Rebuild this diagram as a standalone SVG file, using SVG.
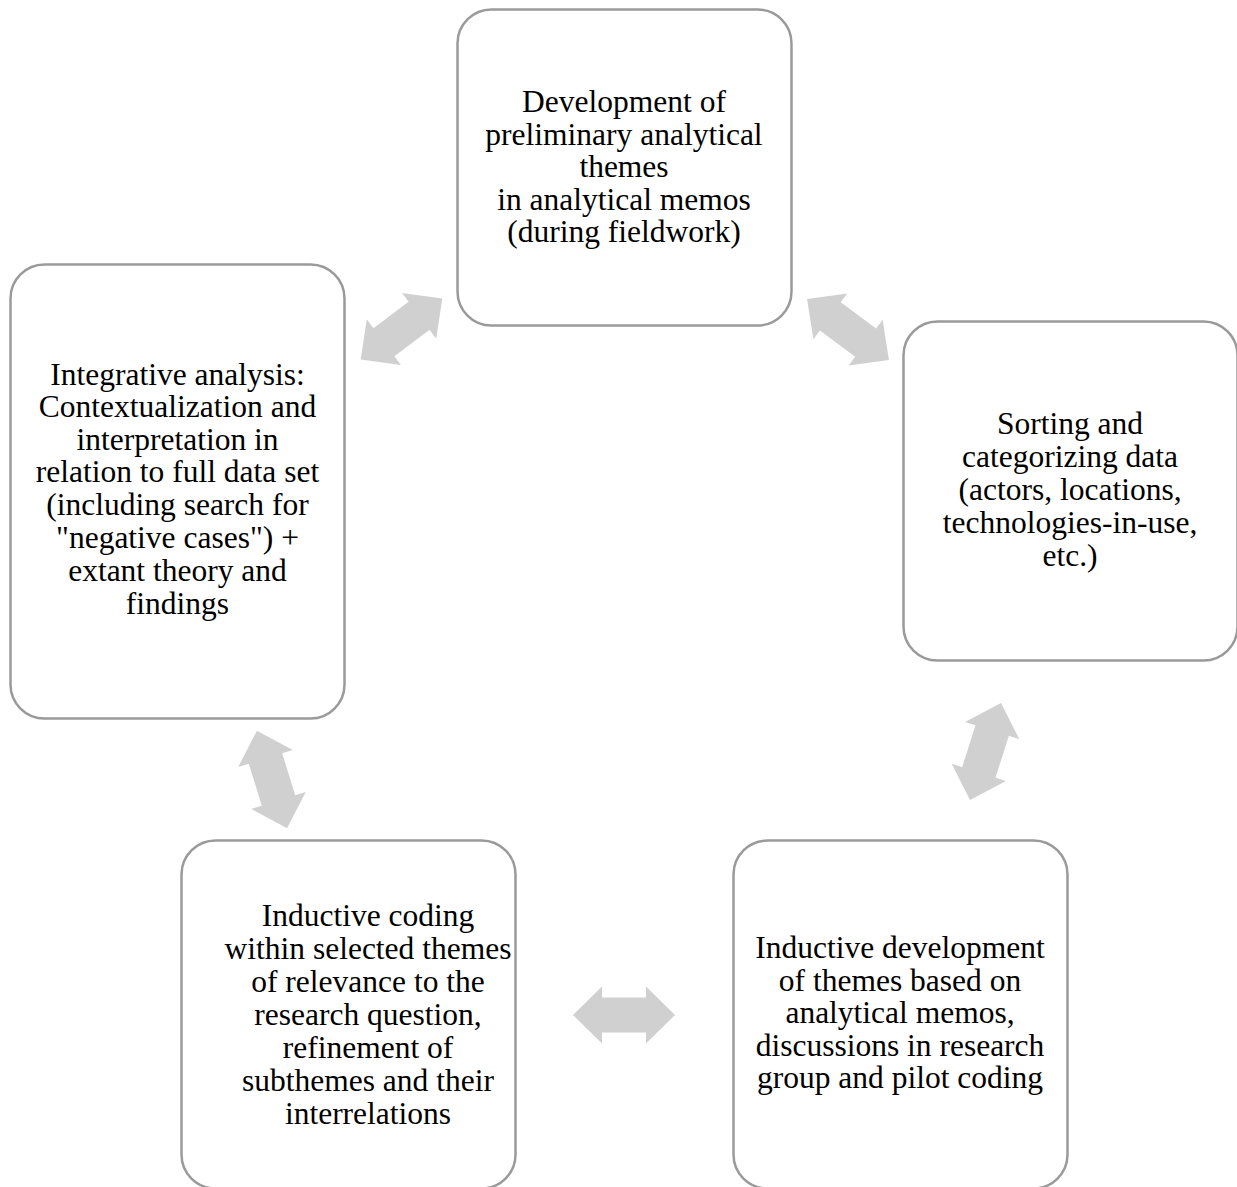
<svg xmlns="http://www.w3.org/2000/svg" width="1237" height="1187" viewBox="0 0 1237 1187">
<style>
.box{fill:#fff;stroke:#9a9a9a;stroke-width:2.5}
.t{font-family:"Liberation Serif","Times New Roman",serif;font-size:31.5px;fill:#000;text-anchor:middle}
.arr{fill:#d0d0d0}
</style>
<defs>
<polygon id="dbl" points="-51,0 -22,-28.5 -22,-17.5 22,-17.5 22,-28.5 51,0 22,28.5 22,17.5 -22,17.5 -22,28.5"/>
</defs>
<rect width="1237" height="1187" fill="#fff"/>
<g id="connectors" class="arr">
<use href="#dbl" transform="translate(401.5,329) rotate(-36.8)"/>
<use href="#dbl" transform="translate(848,329.5) rotate(36.6)"/>
<use href="#dbl" transform="translate(985.5,751.5) rotate(107.7)"/>
<use href="#dbl" transform="translate(624,1015)"/>
<use href="#dbl" transform="translate(272,779.5) rotate(72.8)"/>
</g>
<g id="node-top">
<rect class="box" x="457.5" y="9.5" width="334" height="316" rx="34"/>
<text class="t" x="624" y="112">Development of</text>
<text class="t" x="624" y="144.5">preliminary analytical</text>
<text class="t" x="624" y="177">themes</text>
<text class="t" x="624" y="209.5">in analytical memos</text>
<text class="t" x="624" y="242">(during fieldwork)</text>
</g>
<g id="node-right">
<rect class="box" x="903.5" y="321.5" width="334" height="339" rx="34"/>
<text class="t" x="1070" y="434">Sorting and</text>
<text class="t" x="1070" y="467">categorizing data</text>
<text class="t" x="1070" y="500">(actors, locations,</text>
<text class="t" x="1070" y="533">technologies-in-use,</text>
<text class="t" x="1070" y="566">etc.)</text>
</g>
<g id="node-bottom-right">
<rect class="box" x="733.5" y="840.5" width="334" height="348" rx="34"/>
<text class="t" x="900" y="958">Inductive development</text>
<text class="t" x="900" y="990.5">of themes based on</text>
<text class="t" x="900" y="1023">analytical memos,</text>
<text class="t" x="900" y="1055.5">discussions in research</text>
<text class="t" x="900" y="1088">group and pilot coding</text>
</g>
<g id="node-bottom-left">
<rect class="box" x="181.5" y="840.5" width="334" height="348" rx="34"/>
<text class="t" x="368" y="926">Inductive coding</text>
<text class="t" x="368" y="959">within selected themes</text>
<text class="t" x="368" y="992">of relevance to the</text>
<text class="t" x="368" y="1025">research question,</text>
<text class="t" x="368" y="1058">refinement of</text>
<text class="t" x="368" y="1091">subthemes and their</text>
<text class="t" x="368" y="1124">interrelations</text>
</g>
<g id="node-left">
<rect class="box" x="10.5" y="264.5" width="334" height="454" rx="34"/>
<text class="t" x="177.5" y="384.5">Integrative analysis:</text>
<text class="t" x="177.5" y="417">Contextualization and</text>
<text class="t" x="177.5" y="449.5">interpretation in</text>
<text class="t" x="177.5" y="482">relation to full data set</text>
<text class="t" x="177.5" y="515">(including search for</text>
<text class="t" x="177.5" y="548">"negative cases") +</text>
<text class="t" x="177.5" y="581">extant theory and</text>
<text class="t" x="177.5" y="614">findings</text>
</g>
</svg>
